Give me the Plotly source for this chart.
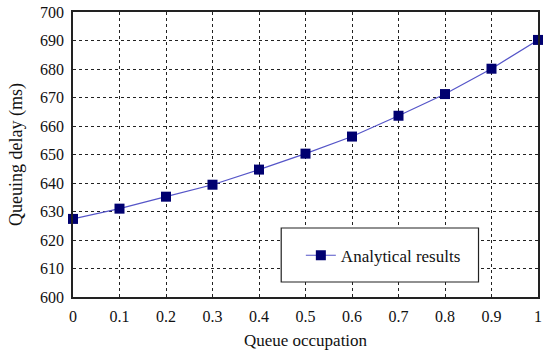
import plotly.graph_objects as go

occupation = [0, 0.1, 0.2, 0.3, 0.4, 0.5, 0.6, 0.7, 0.8, 0.9, 1.0]
delay_ms = [627.4, 631.0, 635.2, 639.4, 644.7, 650.3, 656.3, 663.6, 671.2, 680.1, 690.2]
series_name = "Analytical results"

font_family = "Liberation Serif, Times New Roman, serif"

fig = go.Figure()
fig.add_trace(go.Scatter(
    x=occupation, y=delay_ms, mode="lines+markers", name=series_name,
    line=dict(color="#5555c8", width=1.2),
    marker=dict(symbol="square", size=10, color="#000070", line=dict(width=0)),
    cliponaxis=False,
))

fig.update_layout(
    width=544, height=353,
    margin=dict(l=73, r=2, t=12, b=56),
    paper_bgcolor="white", plot_bgcolor="white",
    font=dict(family=font_family, size=16, color="#111"),
    showlegend=True,
    legend=dict(x=0.49, y=0.145, xanchor="left", yanchor="middle",
                bgcolor="rgba(0,0,0,0)", borderwidth=0,
                font=dict(family=font_family, size=17, color="#111")),
    shapes=[dict(type="rect", xref="paper", yref="paper",
                 x0=(283-73)/469, x1=(482-73)/469,
                 y0=(297-282)/285, y1=(297-228)/285,
                 line=dict(color="#222", width=1.2), fillcolor="white", layer="above")],
    xaxis=dict(range=[0, 1], dtick=0.1, tick0=0, showgrid=True, gridcolor="#222",
               griddash="dot", gridwidth=1, showline=True, linecolor="#222",
               linewidth=1.5, mirror=True, ticks="", zeroline=False,
               ticklabelstandoff=4,
               title=dict(text="Queue occupation", font=dict(size=17), standoff=10),
               tickfont=dict(size=16)),
    yaxis=dict(range=[600, 700], dtick=10, showgrid=True, gridcolor="#222",
               griddash="dot", gridwidth=1, showline=True, linecolor="#222",
               linewidth=1.5, mirror=True, ticks="", zeroline=False,
               ticklabelstandoff=4,
               title=dict(text="Queuing delay (ms)", font=dict(size=18), standoff=13),
               tickfont=dict(size=16)),
)

fig.write_html("out.html")
